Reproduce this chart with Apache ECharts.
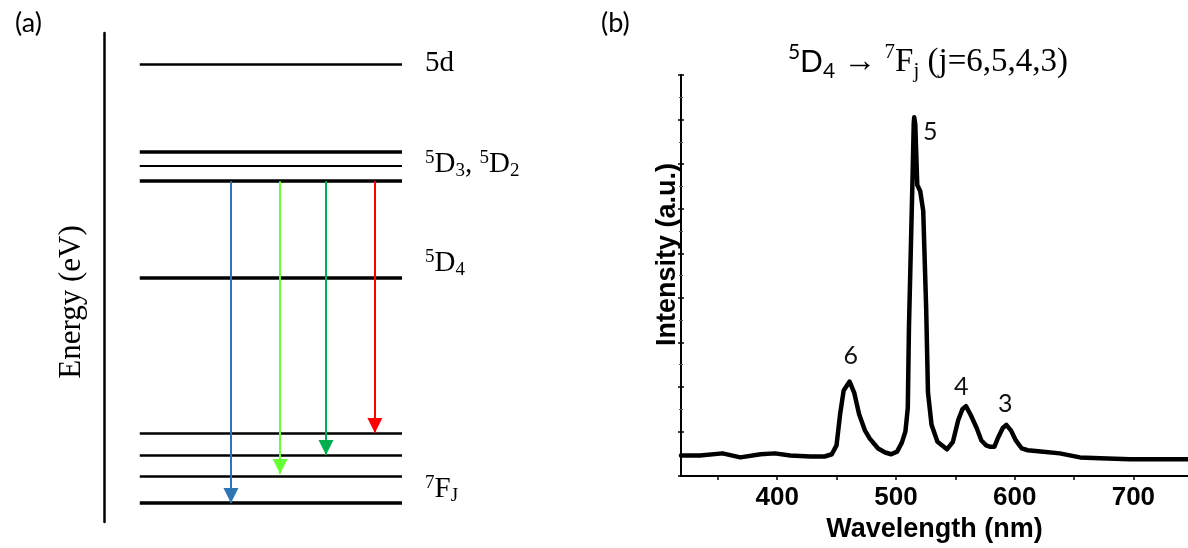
<!DOCTYPE html>
<html lang="en">
<head>
    <meta charset="UTF-8">
    <title>Tb3+ levels and emission</title>
    <script src="https://cdn.jsdelivr.net/npm/echarts@6/dist/echarts.min.js"></script>
    <style>
        *{
            padding:0;
            margin:0;
        }
        html,body{
            height:100%;
            background:#fff;
        }
        #main{
            width:1188px;
            height:548px;
        }
    </style>
</head>
<body>
<div id="main"></div>
<script>
    // (a) energy levels, arbitrary energy scale 0..10
    var levelEnergy = [9.37, 7.57, 7.28, 6.97, 4.99, 1.82, 1.37, 0.94, 0.39];
    var levelWidth = [2.5, 3.5, 2, 3.5, 3.5, 2.5, 2.5, 2.5, 3.5];
    var levelStart = 1.2, levelEnd = 10;

    // transitions from 5D4 region down to 7FJ
    var arrowX = [4.26, 5.91, 7.45, 9.09];
    var arrowFrom = [6.97, 6.97, 6.97, 6.97];
    var arrowTo = [0.39, 0.98, 1.37, 1.82];
    var arrowColor = ['#2e75b6', '#66ff33', '#00b050', '#ff0000'];

    var levelLabels = ['5d', '{sup|5}{m|D}{sub|3}{m|, }{sup|5}{m|D}{sub|2}', '{sup|5}{m|D}{sub|4}', '{sup|7}{m|F}{sub|J}'];
    var levelLabelEnergy = [9.37, 7.32, 5.28, 0.67];

    // (b) emission spectrum
    var wavelength = [319, 335, 354, 369, 386, 398, 411, 428, 440, 446, 450, 453, 456, 461, 465, 469, 474, 478, 485, 491, 496,
        501, 505, 508, 509, 510, 511, 513, 514, 515, 515.4, 516.3, 518, 520.5, 522, 523, 525.5, 527, 530, 535, 543,
        548, 552.5, 556, 559, 563, 568, 572, 576, 579, 583, 586, 590, 593, 597, 601, 606, 611, 622, 638, 655, 672, 697, 746];
    var intensity = [0.46, 0.46, 0.51, 0.42, 0.49, 0.51, 0.46, 0.44, 0.44, 0.49, 0.69, 1.39, 1.92, 2.12, 1.86, 1.39, 1.02, 0.84, 0.62, 0.53, 0.49,
        0.55, 0.75, 1.0, 1.26, 1.53, 3.36, 5.58, 6.68, 7.9, 8.05, 7.9, 6.53, 6.39, 6.35, 5.95, 3.74, 1.88, 1.15, 0.77, 0.6,
        0.77, 1.26, 1.5, 1.57, 1.37, 1.08, 0.8, 0.69, 0.66, 0.66, 0.86, 1.08, 1.15, 1.02, 0.8, 0.62, 0.58, 0.55, 0.51, 0.42, 0.4, 0.38, 0.38];

    var peakNames = ['6', '5', '4', '3'];
    var peakLabelX = [462, 529, 555, 592];
    var peakLabelY = [2.7, 7.72, 2.01, 1.62];

    var xLabelValues = [400, 500, 600, 700];
    var xTickValues = [350, 400, 450, 500, 550, 600, 650, 700];

    var serif = '"Liberation Serif", "DejaVu Serif", serif';
    var sans = '"Liberation Sans", Arial, sans-serif';
    var cal = 'Lato, "Open Sans", sans-serif';

    var levelData = levelEnergy.map(function (e, i) {
        return {coords: [[levelStart, e], [levelEnd, e]], lineStyle: {width: levelWidth[i], color: '#000', opacity: 1}};
    });
    var arrowData = arrowX.map(function (x, i) {
        return [
            {coord: [x, arrowFrom[i]], lineStyle: {width: 2, color: arrowColor[i], type: 'solid', opacity: 1}, itemStyle: {color: arrowColor[i]}},
            {coord: [x, arrowTo[i]]}
        ];
    });
    var levelLabelData = levelLabels.map(function (t, i) {
        return {name: t, value: [levelEnd, levelLabelEnergy[i]]};
    });
    var spectrum = wavelength.map(function (w, i) { return [w, intensity[i]]; });
    var peakData = peakNames.map(function (n, i) { return {name: n, value: [peakLabelX[i], peakLabelY[i]]}; });

    var levelRich = {
        m: {fontFamily: serif, fontSize: 29, color: '#000', lineHeight: 32},
        sup: {fontFamily: serif, fontSize: 19, color: '#000', verticalAlign: 'top', lineHeight: 20},
        sub: {fontFamily: serif, fontSize: 19, color: '#000', verticalAlign: 'bottom', lineHeight: 20}
    };

    var myChart = echarts.init(document.getElementById('main'));
    var option = {
        backgroundColor: '#fff',
        animation: false,
        title: [
            {text: '(a)', left: 10, top: 5, textStyle: {fontFamily: cal, fontSize: 27, fontWeight: 'normal', color: '#000'}},
            {text: '(b)', left: 596, top: 5, textStyle: {fontFamily: cal, fontSize: 27, fontWeight: 'normal', color: '#000'}},
            {
                text: '{sups|5}{s|D}{subs|4}{m| \u2192 }{sup|7}{m|F}{sub|j}{m| (j=6,5,4,3)}',
                left: 923, top: 37, textAlign: 'center',
                textStyle: {
                    fontWeight: 'normal',
                    rich: {
                        m: {fontFamily: serif, fontSize: 33, fontWeight: 'normal', color: '#000', lineHeight: 40},
                        s: {fontFamily: cal, fontSize: 30, fontWeight: 'normal', color: '#000', lineHeight: 40},
                        sup: {fontFamily: serif, fontSize: 21, fontWeight: 'normal', color: '#000', verticalAlign: 'top', lineHeight: 22},
                        sub: {fontFamily: serif, fontSize: 21, fontWeight: 'normal', color: '#000', verticalAlign: 'bottom', lineHeight: 20},
                        sups: {fontFamily: cal, fontSize: 21, fontWeight: 'normal', color: '#000', verticalAlign: 'top', lineHeight: 22},
                        subs: {fontFamily: cal, fontSize: 21, fontWeight: 'normal', color: '#000', verticalAlign: 'bottom', lineHeight: 20}
                    }
                }
            }
        ],
        grid: [
            {left: 104, top: 33, width: 298, height: 489},
            {left: 681, top: 75, right: 0, bottom: 66}
        ],
        xAxis: [
            {gridIndex: 0, type: 'value', min: 0, max: 10, show: false},
            {
                gridIndex: 1, type: 'value', min: 319, max: 746,
                name: 'Wavelength (nm)', nameLocation: 'middle', nameGap: 38,
                nameTextStyle: {fontFamily: sans, fontSize: 27, fontWeight: 'bold', color: '#000'},
                axisLine: {onZero: false, lineStyle: {color: '#000', width: 2}},
                axisTick: {customValues: xTickValues, length: 4, lineStyle: {color: '#000', width: 1.5}},
                axisLabel: {customValues: xLabelValues, margin: 9, fontFamily: sans, fontSize: 26, fontWeight: 'bold', color: '#000'},
                splitLine: {show: false}
            }
        ],
        yAxis: [
            {
                gridIndex: 0, type: 'value', min: 0, max: 10,
                name: 'Energy (eV)', nameLocation: 'middle', nameGap: 17,
                nameTextStyle: {fontFamily: serif, fontSize: 31, color: '#000', padding: [0, 49, 0, 0]},
                axisLine: {show: true, lineStyle: {color: '#000', width: 2.5}},
                axisTick: {show: false}, axisLabel: {show: false}, splitLine: {show: false}
            },
            {
                gridIndex: 1, type: 'value', position: 'left', min: 0, max: 9, interval: 1,
                name: 'Intensity (a.u.)', nameLocation: 'middle', nameGap: 0,
                nameTextStyle: {fontFamily: sans, fontSize: 27, fontWeight: 'bold', color: '#000', padding: [0, 0, 0, 42]},
                axisLine: {onZero: false, lineStyle: {color: '#000', width: 2}},
                axisTick: {length: 3, lineStyle: {color: '#000', width: 1.5}},
                minorTick: {show: true, splitNumber: 2, length: 2, lineStyle: {color: '#555', width: 1}},
                axisLabel: {show: false}, splitLine: {show: false}
            },
            {
                gridIndex: 1, type: 'value', position: 'left', offset: 0, min: 0, max: 9, interval: 1,
                axisLine: {show: false},
                axisTick: {inside: true, length: 3, lineStyle: {color: '#000', width: 1.5}},
                minorTick: {show: true, splitNumber: 2, length: 2, lineStyle: {color: '#555', width: 1}},
                axisLabel: {show: false}, splitLine: {show: false}
            }
        ],
        series: [
            {
                type: 'lines', coordinateSystem: 'cartesian2d', xAxisIndex: 0, yAxisIndex: 0,
                symbol: ['none', 'none'], data: levelData, silent: true, z: 2
            },
            {
                // carrier for the transition arrows
                type: 'line', xAxisIndex: 0, yAxisIndex: 0, data: [], silent: true, z: 3,
                markLine: {
                    silent: true, animation: false,
                    symbol: ['none', 'triangle'], symbolSize: 15, symbolOffset: [0, [0, 7.5]],
                    label: {show: false}, emphasis: {disabled: true},
                    data: arrowData
                }
            },
            {
                type: 'scatter', xAxisIndex: 0, yAxisIndex: 0, symbolSize: 0, data: levelLabelData, silent: true,
                itemStyle: {opacity: 1},
                label: {
                    show: true, position: 'right', distance: 23, opacity: 1,
                    formatter: function (p) { return p.name; },
                    fontFamily: serif, fontSize: 29, color: '#000', rich: levelRich
                }
            },
            {
                type: 'line', xAxisIndex: 1, yAxisIndex: 1, data: spectrum, symbol: 'none', smooth: false,
                lineStyle: {color: '#000', width: 4.5, join: 'round', cap: 'round'}, silent: true
            },
            {
                type: 'scatter', xAxisIndex: 1, yAxisIndex: 1, symbolSize: 0, data: peakData, silent: true,
                itemStyle: {opacity: 1},
                label: {show: true, position: 'inside', opacity: 1, formatter: '{b}', fontFamily: cal, fontSize: 25, color: '#111'}
            }
        ]
    };
    myChart.setOption(option);
</script>
</body>
</html>
